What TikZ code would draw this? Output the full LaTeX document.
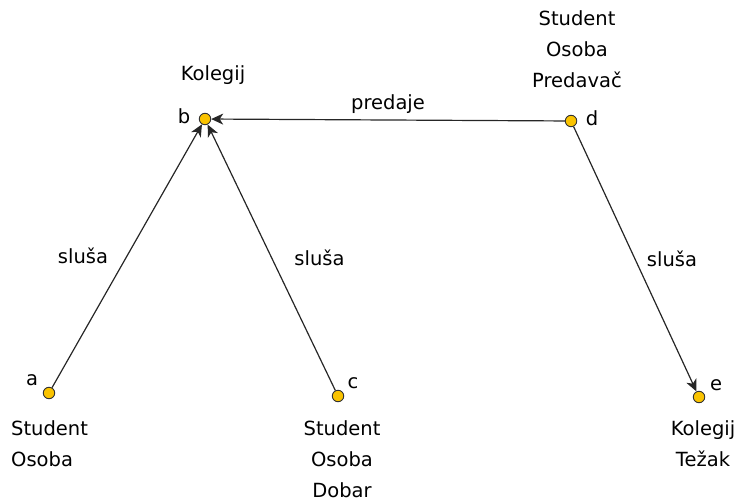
\documentclass[tikz,border=0pt]{standalone}
\usepackage{fontspec}
\setmainfont{DejaVu Sans}
\usetikzlibrary{arrows.meta}
\definecolor{vfill}{RGB}{250,195,0}
\tikzset{
  vert/.style={circle,draw=black!80,fill=vfill,line width=0.9pt,inner sep=0pt,minimum size=11.5bp},
  lbl/.style={font=\fontsize{19.5bp}{31bp}\selectfont,align=center,inner sep=0pt},
  edge/.style={draw=black!85,line width=1.2pt,-{Stealth[length=12bp,width=11bp,inset=3.5bp]}},
}
\begin{document}
\begin{tikzpicture}[x=1bp,y=-1bp]
\useasboundingbox (0,0) rectangle (740,501);
\node[vert] (b) at (205,119) {};
\node[vert] (d) at (571,121) {};
\node[vert] (a) at (49,393) {};
\node[vert] (c) at (338,396) {};
\node[vert] (e) at (699,397) {};
\node[lbl] (bn) at (184,116) {b};
\node[lbl] (dn) at (592,118) {d};
\node[lbl] (an) at (32,380) {a};
\node[lbl] (cn) at (353,383) {c};
\node[lbl] (en) at (716,385) {e};
\node[lbl] (bt) at (213,75) {Kolegij};
\node[lbl] (dt) at (577,49) {Student\\Osoba\\Predavač};
\node[lbl,align=left,anchor=west] (at) at (11,444) {Student\\Osoba};
\node[lbl] (ct) at (342,459) {Student\\Osoba\\Dobar};
\node[lbl] (et) at (703,444) {Kolegij\\Težak};
\draw[edge] (a) -- node[lbl,pos=0.5,xshift=-44bp] {sluša} (b);
\draw[edge] (c) -- node[lbl,pos=0.5,xshift=48bp] {sluša} (b);
\draw[edge] (d) -- node[lbl,pos=0.5,yshift=16bp] {predaje} (b);
\draw[edge] (d) -- node[lbl,pos=0.5,xshift=37bp] {sluša} (e);
\end{tikzpicture}
\end{document}
